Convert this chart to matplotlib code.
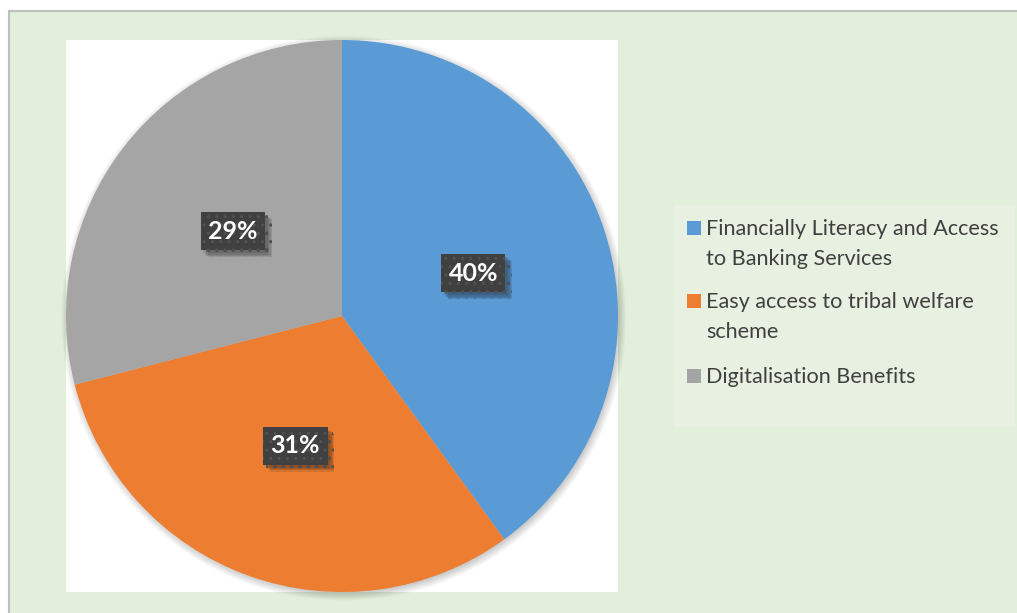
import matplotlib
matplotlib.use('Agg')
import matplotlib.pyplot as plt
import matplotlib.patheffects as pe
from matplotlib.patches import Rectangle, Circle

categories = ['Financially Literacy and Access\nto Banking Services',
              'Easy access to tribal welfare\nscheme',
              'Digitalisation Benefits']
shares = [40, 31, 29]
colors = ['#5B9BD5', '#ED7D31', '#A5A5A5']

W, H = 1017, 613
fig = plt.figure(figsize=(W / 100, H / 100), dpi=100)
fig.patch.set_facecolor('white')


def fx(x):
    return x / W


def fy(y):
    return 1 - y / H


# green panel, grey border only shows on top and left
fig.add_artist(Rectangle((fx(9), -0.05), 1.1, fy(11) + 0.05, transform=fig.transFigure,
                         fc='#E2EFDA', ec='#BFBFBF', lw=1.5, zorder=0))

# legend panel
fig.add_artist(Rectangle((fx(674), fy(427)), (1015 - 674) / W, (427 - 205) / H,
                         transform=fig.transFigure, fc='#E8F0E2', ec='none', zorder=0))

ax = fig.add_axes([fx(66), fy(592), 552 / W, 552 / H])
ax.set_facecolor('white')
for s in ax.spines.values():
    s.set_visible(False)

# soft shadow under the pie
for i in range(12):
    ax.add_patch(Circle((0.006, -0.008), 0.99 + 0.003 * i, fc='black', ec='none',
                        alpha=0.018, zorder=0, clip_on=False))

wedges, texts, autotexts = ax.pie(shares, colors=colors, startangle=90, counterclock=False,
                                  radius=1, frame=True, pctdistance=0.5,
                                  autopct=lambda p: f'{p:.0f}%',
                                  wedgeprops=dict(linewidth=0, zorder=1))
ax.set_xlim(-1, 1)
ax.set_ylim(-1, 1)
ax.set_aspect('equal')
ax.set_xticks([])
ax.set_yticks([])

# blurred-looking drop shadow for the value boxes
soft = [pe.SimplePatchShadow(offset=(d, -d), alpha=0.12) for d in (5, 4, 3, 2)]
for t in autotexts:
    t.set(color='white', fontweight='bold', fontsize=18, family='Lato', zorder=5)
    t.set_bbox(dict(boxstyle='square,pad=0.3', fc='#404040', ec='#525252', lw=0, hatch='..'))
    t.get_bbox_patch().set_path_effects(soft + [pe.Normal()])

# legend entries, square next to the first line of each label
baselines = [235, 308, 383]
for lab, col, yb in zip(categories, colors, baselines):
    fig.add_artist(Rectangle((fx(687), fy(yb)), 14 / W, 14 / H, transform=fig.transFigure,
                             fc=col, ec='none'))
    nl = lab.count('\n')
    fig.text(fx(706), fy(yb + 30 * nl), lab, ha='left', va='baseline', fontsize=15.6,
             family='Lato', color='#404040', linespacing=1.62)

fig.savefig('out.png', dpi=100)
